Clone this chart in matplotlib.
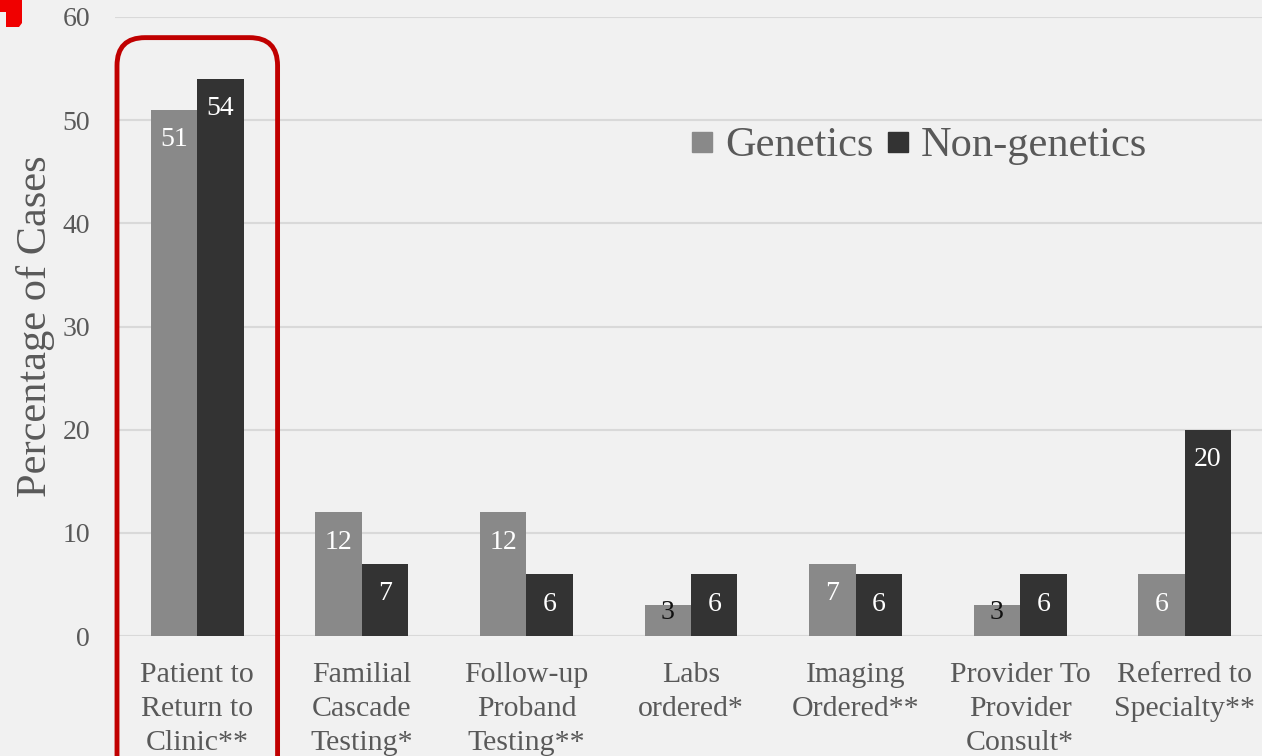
import matplotlib
matplotlib.use("Agg")
import matplotlib.pyplot as plt
import numpy as np
from matplotlib.patches import FancyBboxPatch, Polygon
from matplotlib.lines import Line2D
from matplotlib.transforms import IdentityTransform

categories = ["Patient to\nReturn to\nClinic**", "Familial\nCascade\nTesting*",
              "Follow-up\nProband\nTesting**", "Labs\nordered*", "Imaging\nOrdered**",
              "Provider To\nProvider\nConsult*", "Referred to\nSpecialty**"]
genetics = [51, 12, 12, 3, 7, 3, 6]
non_genetics = [54, 7, 6, 6, 6, 6, 20]
series_names = ["Genetics", "Non-genetics"]
yticks = [0, 10, 20, 30, 40, 50, 60]

plt.rcParams['font.family'] = ['Liberation Serif', 'DejaVu Serif']

W, H = 1262, 756
fig = plt.figure(figsize=(W / 100, H / 100), dpi=100)
bg = "#f1f1f1"
fig.patch.set_facecolor(bg)

ax = fig.add_axes([115 / W, 120 / H, 1152 / W, 619 / H])
ax.set_facecolor(bg)

x = np.arange(len(categories))
bw = 0.2825
c_gen = "#898989"
c_non = "#333333"
text_c = "#595959"

ax.bar(x - bw / 2, genetics, bw, color=c_gen, zorder=3)
ax.bar(x + bw / 2, non_genetics, bw, color=c_non, zorder=3)

ax.set_xlim(-0.5, len(categories) - 0.5)
ax.set_ylim(0, 60)
ax.set_yticks(yticks)
ax.set_xticks(x)
ax.set_xticklabels(categories, fontsize=21.5, color=text_c, linespacing=1.41)
ax.tick_params(axis='x', length=0, pad=18.5)
ax.tick_params(axis='y', length=0, pad=18, labelsize=20, labelcolor=text_c)
for s in ax.spines.values():
    s.set_visible(False)
ax.yaxis.grid(True, color="#d9d9d9", linewidth=1.5, zorder=0)
ax.set_axisbelow(True)

ax.set_ylabel("Percentage of Cases", fontsize=30.5, color=text_c)
ax.yaxis.set_label_coords(-0.052, 0.5)

def label_bars(xs, vals):
    for xi, v in zip(xs, vals):
        if v >= 4:
            ax.text(xi, v - 2.9, str(v), ha='center', va='center', fontsize=20,
                    color='white', zorder=4)
        else:
            ax.text(xi, v - 0.75, str(v), ha='center', va='center', fontsize=20,
                    color='#111111', zorder=4)

label_bars(x - bw / 2, genetics)
label_bars(x + bw / 2, non_genetics)

handles = [Line2D([], [], marker='s', linestyle='', color=c_gen, markersize=15),
           Line2D([], [], marker='s', linestyle='', color=c_non, markersize=15)]
leg = ax.legend(handles, series_names, loc='center left', ncol=2,
                bbox_to_anchor=(691 / W, 1 - 146 / H), bbox_transform=fig.transFigure,
                frameon=False, fontsize=30.5, handlelength=0.5, handletextpad=0.3,
                columnspacing=0.33, borderpad=0, borderaxespad=0)
for t in leg.get_texts():
    t.set_color(text_c)

# red highlight box around first category
fig.canvas.draw()
x0, y0 = ax.transData.transform((-0.5, 58))
x1, _ = ax.transData.transform((0.5, 58))
box = FancyBboxPatch((x0 + 2, -40), (x1 - x0) - 4, y0 + 40,
                     boxstyle="round,pad=0,rounding_size=28",
                     transform=IdentityTransform(), fill=False,
                     edgecolor="#c00000", linewidth=3.5, zorder=10)
fig.patches.append(box)

# red decoration top-left corner
deco = Polygon([(0, H), (22, H), (22, H - 23), (19, H - 27), (6, H - 27),
                (6, H - 12), (0, H - 12)], closed=True,
               transform=IdentityTransform(), facecolor="#f00000", edgecolor='none')
fig.patches.append(deco)

fig.savefig("out.png", dpi=100, facecolor=bg)
